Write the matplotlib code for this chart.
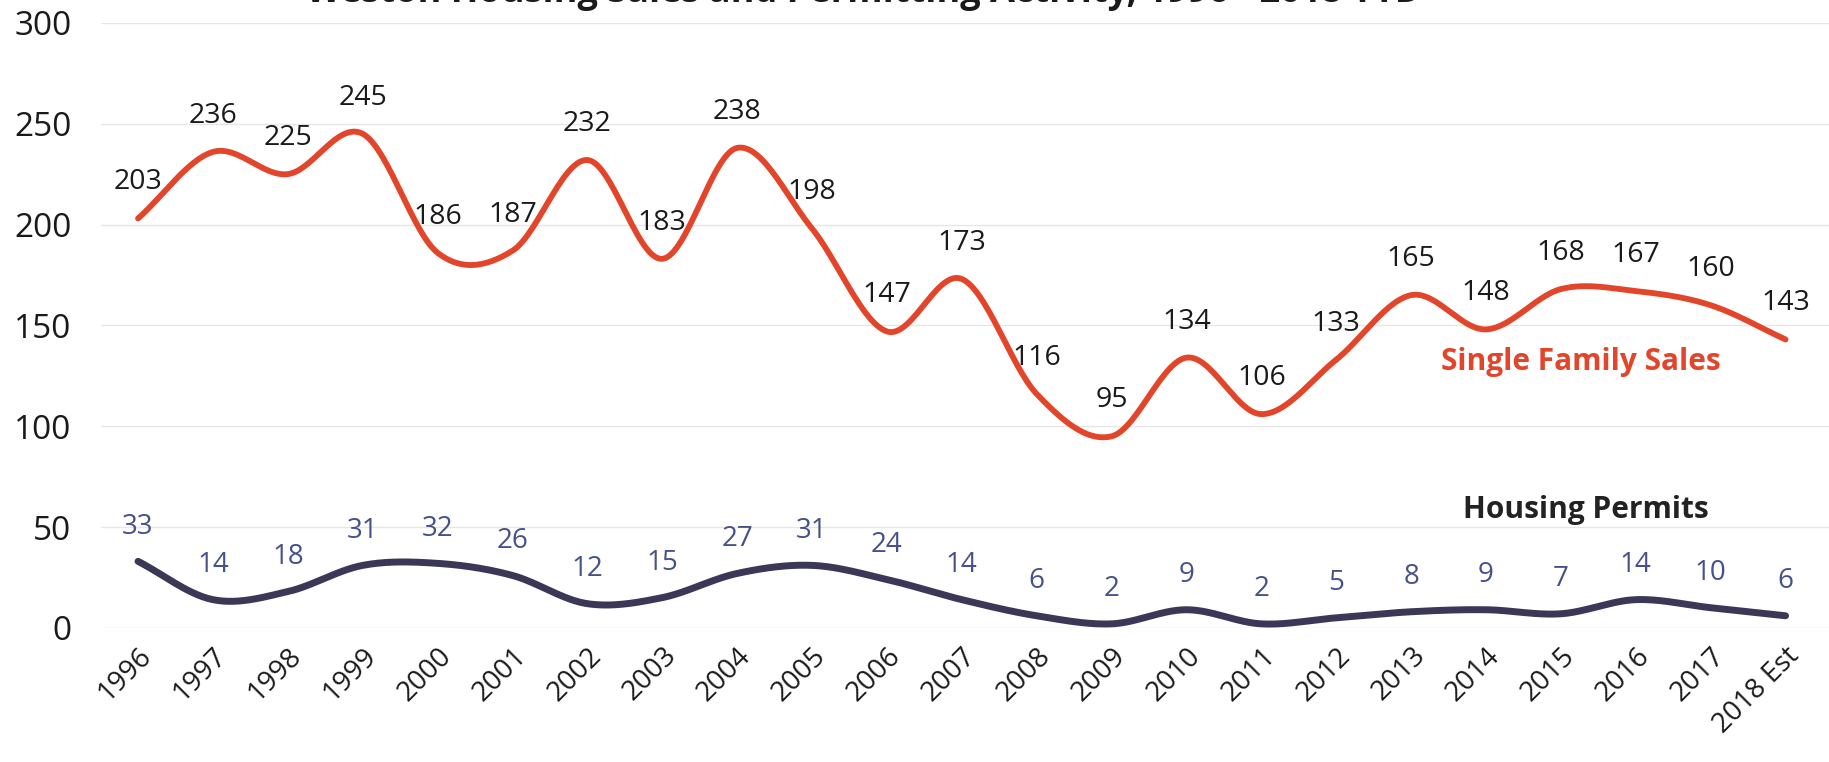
import numpy as np
import matplotlib
matplotlib.use("Agg")
import matplotlib.pyplot as plt

years = ["1996", "1997", "1998", "1999", "2000", "2001", "2002", "2003", "2004",
         "2005", "2006", "2007", "2008", "2009", "2010", "2011", "2012", "2013",
         "2014", "2015", "2016", "2017", "2018 Est"]
sales = [203, 236, 225, 245, 186, 187, 232, 183, 238, 198, 147, 173, 116, 95,
         134, 106, 133, 165, 148, 168, 167, 160, 143]
permits = [33, 14, 18, 31, 32, 26, 12, 15, 27, 31, 24, 14, 6, 2, 9, 2, 5, 8,
           9, 7, 14, 10, 6]

plt.rcParams['font.family'] = ['Open Sans', 'DejaVu Sans']

RED = "#E2452A"
NAVY = "#3A3856"
LBL_BLUE = "#46518A"


def smooth(xs, ys, n=30):
    xs = np.asarray(xs, float)
    ys = np.asarray(ys, float)
    px = np.concatenate([[2 * xs[0] - xs[1]], xs, [2 * xs[-1] - xs[-2]]])
    py = np.concatenate([[2 * ys[0] - ys[1]], ys, [2 * ys[-1] - ys[-2]]])
    outx, outy = [], []
    t = np.linspace(0, 1, n, endpoint=False)
    for i in range(1, len(px) - 2):
        f = lambda a0, a1, a2, a3: 0.5 * ((2 * a1) + (-a0 + a2) * t
                                          + (2 * a0 - 5 * a1 + 4 * a2 - a3) * t ** 2
                                          + (-a0 + 3 * a1 - 3 * a2 + a3) * t ** 3)
        outx.append(f(px[i - 1], px[i], px[i + 1], px[i + 2]))
        outy.append(f(py[i - 1], py[i], py[i + 1], py[i + 2]))
    outx.append([xs[-1]])
    outy.append([ys[-1]])
    return np.concatenate(outx), np.concatenate(outy)


fig = plt.figure(figsize=(18.29, 7.62), dpi=100)
ax = fig.add_axes([0.055, 0.176, 0.945, 0.794])

x = np.arange(len(years))
sx, sy = smooth(x, sales)
px_, py_ = smooth(x, permits)
ax.plot(sx, sy, color=RED, lw=4.2, solid_capstyle='round', clip_on=False, zorder=3)
ax.plot(px_, py_, color=NAVY, lw=5.0, solid_capstyle='round', clip_on=False, zorder=3)

for xi, v in zip(x, sales):
    ax.annotate(str(v), (xi, v), xytext=(0, 26), textcoords='offset points',
                ha='center', va='center', fontsize=20.5, color='#1a1a1a', zorder=4)
for xi, v in zip(x, permits):
    ax.annotate(str(v), (xi, v), xytext=(0, 25), textcoords='offset points',
                ha='center', va='center', fontsize=20, color=LBL_BLUE, zorder=4)

ax.text(19.27, 132, "Single Family Sales", color=RED, fontsize=21.5,
        fontweight='bold', ha='center', va='center')
ax.text(19.33, 58.5, "Housing Permits", color="#222222", fontsize=21.5,
        fontweight='bold', ha='center', va='center')

ax.set_xlim(-0.5, 22.58)
ax.set_ylim(0, 300)
ax.set_yticks([0, 50, 100, 150, 200, 250, 300])
ax.set_xticks(x)
ax.set_xticklabels(years, rotation=45, ha='right', rotation_mode='anchor')
ax.tick_params(axis='y', length=0, labelsize=24, colors='#1a1a1a', pad=21)
ax.tick_params(axis='x', length=0, labelsize=20, colors='#1a1a1a', pad=10)
ax.grid(axis='y', color='#e6e6e6', lw=1.0)
ax.set_axisbelow(True)
for s in ax.spines.values():
    s.set_visible(False)

fig.text(0.472, 0.985, "Weston Housing Sales and Permitting Activity, 1996 - 2018 YTD",
         ha='center', va='bottom', fontsize=26, fontweight='bold', color='#1a1a1a')

fig.savefig("out.png", dpi=100, facecolor='white')
